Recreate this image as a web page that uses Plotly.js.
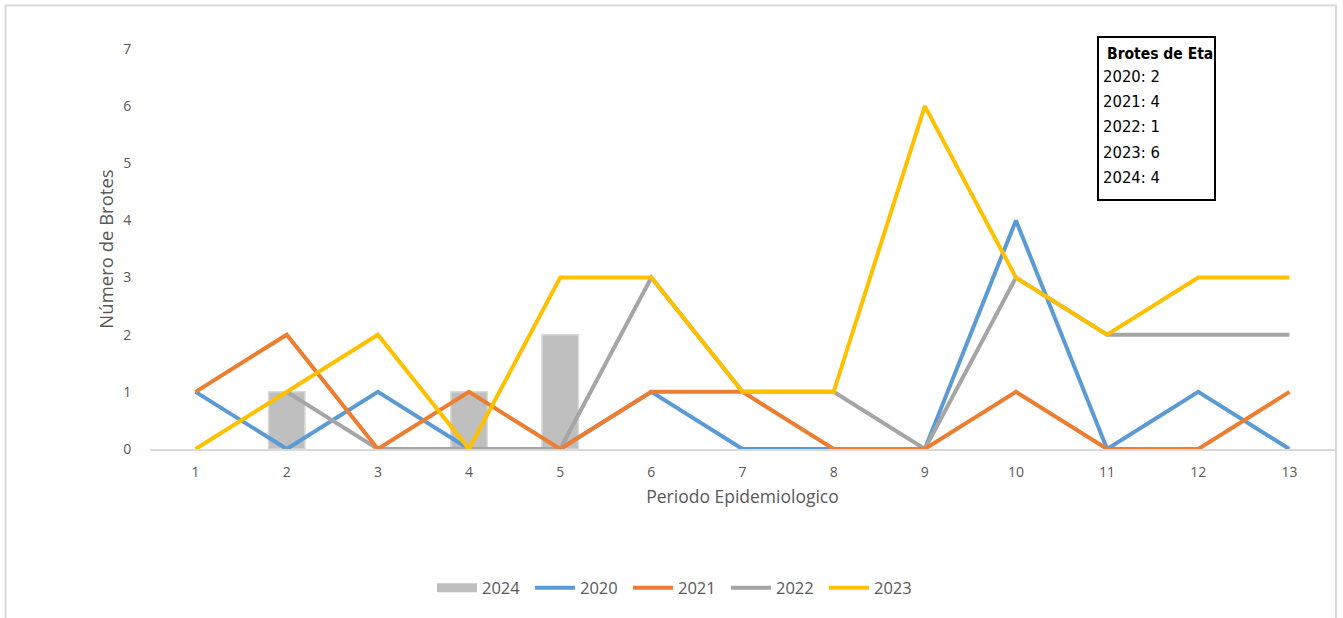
<!DOCTYPE html>
<html>
<head>
<meta charset="utf-8">
<script src="https://cdn.plot.ly/plotly-3.0.1.min.js"></script>
<style>
html,body{margin:0;padding:0;background:#fff;}
#chart{width:1343px;height:618px;}
</style>
</head>
<body>
<div id="chart"></div>
<script>
const periods = [1,2,3,4,5,6,7,8,9,10,11,12,13];
const periods2024 = [1,2,3,4,5];
const v2024 = [0,1,0,1,2];
const v2020 = [1,0,1,0,0,1,0,0,0,4,0,1,0];
const v2021 = [1,2,0,1,0,1,1,0,0,1,0,0,1];
const v2022 = [null,1,0,0,0,3,1,1,0,3,2,2,2];
const v2023 = [0,1,2,0,3,3,1,1,6,3,2,3,3];
const boxTitle = "Brotes de Eta";
const boxLines = ["2020: 2","2021: 4","2022: 1","2023: 6","2024: 4"];

const font = "Open Sans, sans-serif";
const narrow = "DejaVu Sans Condensed, Liberation Sans Narrow, Liberation Sans, sans-serif";
const lineW = 4;
const traces = [
  {type:'bar', name:'2024', x:periods2024, y:v2024, width:0.4, showlegend:false,
   marker:{color:'#bfbfbf', line:{color:'#d9d9d9', width:v2024.map(v => v > 0 ? 1.5 : 0)}}},
  {type:'scatter', mode:'lines', name:'2024', x:[null], y:[null], hoverinfo:'skip',
   line:{color:'#bfbfbf', width:9}, legendrank:1},
  {type:'scatter', mode:'lines', name:'2020', x:periods, y:v2020,
   line:{color:'#5b9bd5', width:lineW}, legendrank:2},
  {type:'scatter', mode:'lines', name:'2022', x:periods, y:v2022,
   line:{color:'#a5a5a5', width:lineW}, legendrank:4},
  {type:'scatter', mode:'lines', name:'2021', x:periods, y:v2021,
   line:{color:'#ed7d31', width:lineW}, legendrank:3},
  {type:'scatter', mode:'lines', name:'2023', x:periods, y:v2023,
   line:{color:'#ffc000', width:lineW}, legendrank:5}
];

const L = 150, R = 1335, T = 49, B = 449;
const px = p => (p - L) / (R - L);
const py = p => (B - p) / (B - T);

const annotations = [
  {xref:'paper', yref:'paper', x:px(1105), y:py(54), xanchor:'left', yanchor:'middle',
   showarrow:false, align:'left', font:{family:narrow, size:15.5, color:'#000'},
   text:'<b>'+boxTitle+'</b>'}
];
boxLines.forEach((t, i) => {
  annotations.push({xref:'paper', yref:'paper', x:px(1101), y:py(77 + 25*i), xanchor:'left', yanchor:'middle',
    showarrow:false, align:'left', font:{family:narrow, size:16.5, color:'#000'}, text:t});
});

const layout = {
  width:1343, height:618,
  margin:{l:L, r:1343-R, t:T, b:618-B, pad:0},
  paper_bgcolor:'#fff', plot_bgcolor:'#fff',
  showlegend:true,
  font:{family:font, color:'#595959', size:14},
  xaxis:{range:[0.5,13.5], tickvals:periods, ticktext:periods.map(String),
    showgrid:false, zeroline:false, showline:true, linecolor:'#d9d9d9', linewidth:1.5,
    ticks:'outside', ticklen:10, tickcolor:'rgba(0,0,0,0)',
    tickfont:{family:font, size:14, color:'#595959'},
    title:{text:'Periodo Epidemiologico', standoff:10, font:{family:font, size:17.5, color:'#595959'}},
    fixedrange:true},
  yaxis:{range:[0,7], dtick:1, tick0:0, showgrid:false, zeroline:false, showline:false,
    ticks:'outside', ticklen:15, tickcolor:'rgba(0,0,0,0)',
    tickfont:{family:font, size:14, color:'#595959'},
    title:{text:'Número de Brotes', standoff:4, font:{family:font, size:18.5, color:'#595959'}},
    fixedrange:true},
  legend:{orientation:'h', x:px(677), xanchor:'center', y:py(588), yanchor:'middle',
    font:{family:font, size:16.5, color:'#595959'}, traceorder:'normal', itemwidth:40, entrywidth:43},
  shapes:[
    {type:'rect', xref:'paper', yref:'paper', x0:px(5.5), x1:px(1336), y0:py(700), y1:py(5.5),
     line:{color:'#d9d9d9', width:2}, fillcolor:'rgba(0,0,0,0)', layer:'below'},
    {type:'rect', xref:'paper', yref:'paper', x0:px(1098), x1:px(1215), y0:py(200), y1:py(37),
     line:{color:'#000', width:2}, fillcolor:'#fff', layer:'above'}
  ],
  annotations: annotations
};

Plotly.newPlot('chart', traces, layout, {displayModeBar:false, staticPlot:true});
</script>
</body>
</html>
